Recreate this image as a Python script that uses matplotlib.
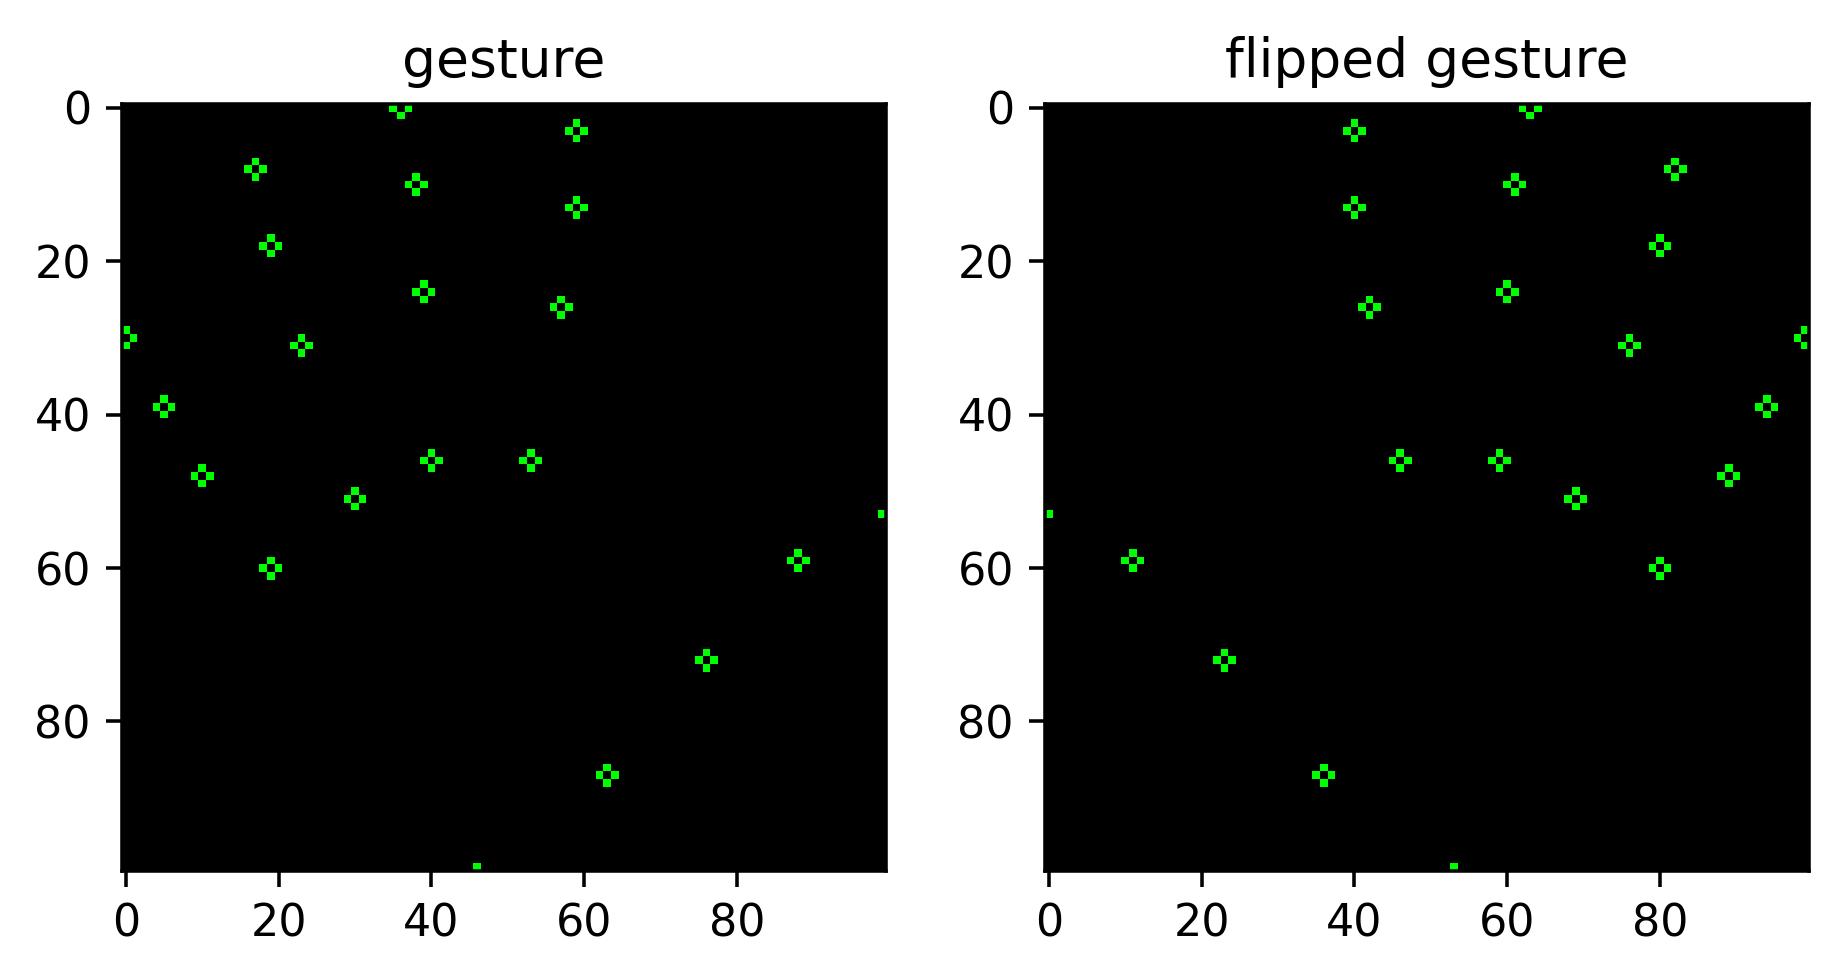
import matplotlib
matplotlib.use("Agg")
import matplotlib.pyplot as plt
import numpy as np

# gesture keypoints (row, col) on a 100x100 canvas
rows = [0, 3, 8, 10, 13, 18, 24, 26, 30, 31, 39, 46, 46, 48, 51, 53, 60, 59, 72, 87, 100]
cols = [36, 59, 17, 38, 59, 19, 39, 57, 0, 23, 5, 40, 53, 10, 30, 100, 19, 88, 76, 63, 46]
size = 100
titles = ["gesture", "flipped gesture"]


def draw_points(rows, cols):
    img = np.zeros((size, size, 3), dtype=np.uint8)
    # radius-1 circle: four neighbours of the centre
    for r, c in zip(rows, cols):
        for dr, dc in [(-1, 0), (1, 0), (0, -1), (0, 1)]:
            rr, cc = r + dr, c + dc
            if 0 <= rr < size and 0 <= cc < size:
                img[rr, cc] = (0, 255, 0)
    return img


gesture = draw_points(rows, cols)
flipped = gesture[:, ::-1]

W, H, dpi = 1837, 980, 320
fig = plt.figure(figsize=(W / dpi, H / dpi), dpi=dpi)
ax1 = fig.add_axes([122 / W, 1 - 871 / H, 764 / W, 767 / H])
ax2 = fig.add_axes([1045 / W, 1 - 871 / H, 764 / W, 767 / H])

for ax, im, title in zip([ax1, ax2], [gesture, flipped], titles):
    ax.imshow(im, aspect="auto")
    ax.set_title(title)
    ax.set_xticks([0, 20, 40, 60, 80])
    ax.set_yticks([0, 20, 40, 60, 80])

fig.savefig("out.png", dpi=dpi)
